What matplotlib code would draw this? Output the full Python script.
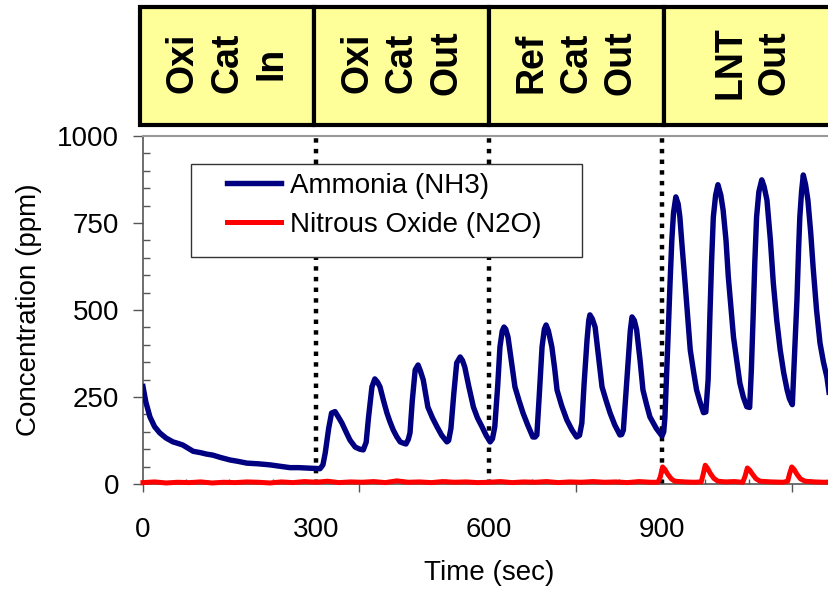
import matplotlib
matplotlib.use("Agg")
import matplotlib.pyplot as plt
from matplotlib.patches import Rectangle
from matplotlib.transforms import blended_transform_factory

plt.rcParams["font.family"] = ["Liberation Sans", "DejaVu Sans"]

# ammonia trace (sec, ppm)
nh3_time = [0, 5, 12, 20, 29, 40, 52, 60, 69, 78, 87, 100, 110, 121, 135, 151, 165,
            180, 200, 220, 238, 255, 270, 284, 295, 307,
            312, 316, 322, 327, 333, 339, 345, 352, 359, 368, 376, 382, 387, 391,
            397, 402, 407, 411, 417, 423, 428, 434, 440, 446, 452, 456, 460, 463,
            467, 472, 477, 481, 486, 490, 494, 502, 510, 518, 527, 530, 534, 539,
            544, 550, 554, 558, 565, 573, 580, 588, 595, 602,
            606, 610, 615, 619, 623, 626, 629, 633, 639, 645, 652, 659, 667, 676,
            680, 683, 687, 692, 696, 699, 703, 709, 714, 718, 726, 735, 744, 752,
            757, 761, 765, 770, 773, 775, 779, 784, 790, 796, 803, 810, 818, 827,
            830, 833, 837, 841, 845, 848, 852, 856, 862, 867, 873, 879, 890, 900,
            903, 905, 910, 914, 917, 920, 924, 928, 931, 935, 940, 945, 949, 955,
            960, 966, 972, 976, 980, 983, 986, 989, 993, 997, 1002, 1006, 1011,
            1015, 1020, 1024, 1030, 1035, 1041, 1047, 1052, 1055, 1058, 1061, 1064,
            1068, 1073, 1077, 1082, 1088, 1093, 1099, 1105, 1111, 1117, 1121, 1126,
            1130, 1134, 1137, 1139, 1142, 1145, 1149, 1153, 1158, 1162, 1168, 1174,
            1180, 1186, 1192, 1200]
nh3_ppm = [280, 235, 193, 165, 147, 132, 121, 117, 112, 103, 94, 90, 86, 83, 76, 69, 65,
           60, 58, 55, 51, 47, 47, 46, 45, 44,
           55, 89, 160, 204, 208, 192, 175, 150, 126, 106, 100, 98, 120, 190,
           279, 302, 292, 279, 240, 204, 180, 155, 136, 121, 117, 115, 128, 147,
           240, 328, 342, 325, 299, 260, 221, 190, 164, 140, 121, 125, 160, 260,
           348, 365, 355, 336, 280, 221, 190, 164, 140, 121,
           130, 164, 280, 394, 440, 451, 445, 422, 350, 279, 240, 204, 170, 135,
           135, 141, 250, 394, 445, 457, 440, 394, 330, 270, 225, 184, 155, 135,
           140, 175, 290, 414, 470, 486, 475, 451, 365, 279, 240, 204, 170, 141,
           142, 155, 250, 348, 440, 480, 470, 443, 355, 270, 230, 193, 160, 138,
           150, 190, 400, 580, 700, 780, 825, 805, 767, 680, 578, 470, 385, 320,
           270, 235, 205, 207, 300, 480, 640, 767, 830, 860, 830, 787, 700,
           595, 500, 422, 350, 290, 250, 222, 220, 330, 480, 640, 767,
           840, 874, 855, 816, 700, 578, 470, 385, 320, 270, 245, 228,
           380, 529, 680, 767, 840, 888, 860, 816, 720, 624, 500, 405,
           350, 307, 235, 200]

# nitrous oxide trace (sec, ppm)
n2o_time = [0, 20, 40, 60, 80, 100, 120, 140, 160, 180, 200, 220, 240, 260, 280, 300,
            320, 340, 360, 380, 400, 420, 440, 460, 480, 500, 520, 540, 560, 580, 600,
            620, 640, 660, 680, 700, 720, 740, 760, 780, 800, 820, 840, 860, 880, 893,
            897, 901, 905, 910, 916, 922, 940, 955, 968, 971, 975, 979, 984, 990, 997,
            1010, 1025, 1040, 1044, 1048, 1052, 1057, 1063, 1070, 1090, 1110, 1118,
            1121, 1125, 1129, 1134, 1140, 1148, 1165, 1180, 1200]
n2o_ppm = [4, 6, 3, 5, 4, 6, 3, 5, 4, 6, 5, 3, 6, 4, 7, 5,
           8, 4, 6, 5, 7, 4, 9, 5, 6, 4, 7, 5, 6, 4, 5,
           7, 4, 6, 5, 7, 4, 6, 5, 7, 5, 6, 4, 7, 5, 5,
           20, 49, 42, 28, 15, 8, 6, 5, 6, 25, 54, 45, 30, 16, 8,
           6, 7, 5, 22, 46, 40, 28, 15, 8, 6, 5, 8,
           28, 49, 42, 28, 15, 8, 6, 5, 6]

section_names = ["Oxi\nCat\nIn", "Oxi\nCat\nOut", "Ref\nCat\nOut", "LNT\nOut"]
section_edges = [-5, 297, 600, 903, 1210]
switch_times = [300, 600, 900]

W, H = 829, 594
fig = plt.figure(figsize=(W / 100, H / 100), dpi=100)
ax = fig.add_axes([143 / W, 1 - 484 / H, 692 / W, 348 / H])

for t in switch_times:
    ax.axvline(t, color="black", lw=3.2, linestyle=(0, (1, 1.4)),
               dash_capstyle="butt", zorder=2)

ax.plot(nh3_time, nh3_ppm, color="#000080", lw=3.9, label="Ammonia (NH3)",
        zorder=3, solid_joinstyle="round")
ax.plot(n2o_time, n2o_ppm, color="#ff0000", lw=3.6, label="Nitrous Oxide (N2O)",
        zorder=3, clip_on=False, solid_joinstyle="round")

ax.set_xlim(0, 1200)
ax.set_ylim(0, 1000)

# y axis: big ticks outside, small ones inside
ax.set_yticks([0, 250, 500, 750, 1000])
ax.set_yticks(range(0, 1001, 50), minor=True)
ax.tick_params(axis="y", which="major", direction="out", length=7.2, width=1,
               color="#555555", labelsize=20, pad=10)
ax.tick_params(axis="y", which="minor", direction="in", length=5, width=1,
               color="#555555")

# x axis tick marks every 75 s, labels every 300 s on a separate axis
ax.set_xticks([0, 375, 750, 1125])
ax.set_xticks(range(0, 1201, 75), minor=True)
ax.tick_params(axis="x", which="major", direction="out", length=6, width=1,
               color="#555555", labelbottom=False)
ax.tick_params(axis="x", which="minor", direction="in", length=3.5, width=1,
               color="#555555")

sec = ax.secondary_xaxis("bottom")
sec.set_xticks([0, 300, 600, 900])
sec.tick_params(length=0, labelsize=20, pad=24)
sec.spines["bottom"].set_visible(False)
sec.set_xlabel("Time (sec)", fontsize=20, labelpad=12)

ax.set_ylabel("Concentration (ppm)", fontsize=20)
ax.yaxis.set_label_coords(-0.146, 0.5)

ax.spines["right"].set_visible(False)
ax.spines["top"].set_color("#999999")
ax.spines["top"].set_linewidth(1.5)
for side in ("left", "bottom"):
    ax.spines[side].set_color("#555555")
    ax.spines[side].set_linewidth(1.2)

# legend with its own frame
ax.add_patch(Rectangle((191 / W, 1 - 257 / H), 391 / W, 93 / H,
                       transform=fig.transFigure, facecolor="white",
                       edgecolor="#333333", lw=1, zorder=4))
ax.legend(loc="upper left", bbox_to_anchor=(227 / W, 1 - 173 / H),
          bbox_transform=fig.transFigure, frameon=False, fontsize=20,
          borderpad=0, borderaxespad=0, handlelength=1.95, handletextpad=0.3,
          labelspacing=0.45)

# section boxes above the plot
trans = blended_transform_factory(ax.transData, fig.transFigure)
for name, x0, x1 in zip(section_names, section_edges[:-1], section_edges[1:]):
    fig.add_artist(Rectangle((x0, 1 - 125 / H), x1 - x0, 118 / H, transform=trans,
                             facecolor="#ffff99", edgecolor="black", lw=3,
                             clip_on=False))
    fig.text((x0 + x1) / 2, 1 - 63 / H, name, transform=trans, rotation=90,
             ha="center", va="center", multialignment="center",
             fontsize=27, fontweight="bold", linespacing=1.3)

fig.savefig("out.png", dpi=100)
